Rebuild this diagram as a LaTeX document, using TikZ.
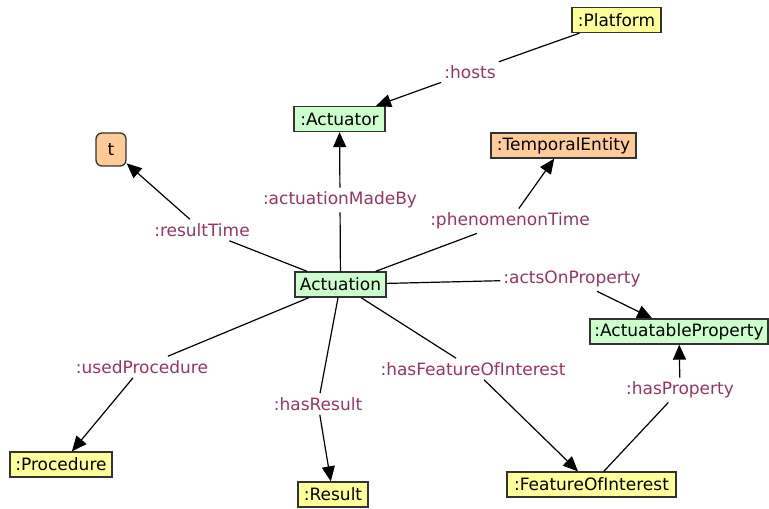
\documentclass[tikz,border=0pt]{standalone}
\usepackage{fontspec}
\setmainfont{DejaVu Sans}
\usetikzlibrary{arrows.meta}
\definecolor{lblc}{HTML}{993366}
\definecolor{gfill}{HTML}{CCFFCC}
\definecolor{yfill}{HTML}{FFFF99}
\definecolor{ofill}{HTML}{FFCC99}
\definecolor{bord}{HTML}{333333}
\begin{document}
\begin{tikzpicture}[x=1pt,y=-1pt,
  box/.style={draw=bord, line width=1.3pt, minimum height=25pt, inner xsep=2pt, inner ysep=0pt, font=\fontsize{17}{19}\selectfont},
  gbox/.style={box, fill=gfill},
  ybox/.style={box, fill=yfill},
  obox/.style={box, fill=ofill},
  lbl/.style={text=lblc, inner xsep=3pt, inner ysep=4pt, font=\fontsize{17}{19}\selectfont},
  conn/.style={line width=1.2pt, draw=black},
  arr/.style={conn, -{Triangle[length=15pt,width=13pt]}}]
\useasboundingbox (0,0) rectangle (769,509);
% nodes
\node[ybox, minimum width=89pt] (plat) at (616.5,20) {:Platform};
\node[gbox, minimum width=91pt] (actr) at (339.5,119) {:Actuator};
\node[obox, rounded corners=6pt, minimum width=30pt, minimum height=33pt] (t) at (111,149.5) {t};
\node[obox, minimum width=145pt] (temp) at (563.5,145.5) {:TemporalEntity};
\node[gbox, minimum width=91pt] (actn) at (340.5,284.5) {Actuation};
\node[gbox, minimum width=178pt] (aprop) at (679,331.5) {:ActuatableProperty};
\node[ybox, minimum width=102pt] (proc) at (61,464.5) {:Procedure};
\node[ybox, minimum width=70pt] (res) at (333,494.5) {:Result};
\node[ybox, minimum width=169pt] (foi) at (591.5,484.5) {:FeatureOfInterest};
% labels
\node[lbl] (lhosts) at (470,72) {:hosts};
\node[lbl] (lrt) at (202,230) {:resultTime};
\node[lbl] (lamb) at (340,200) {:actuationMadeBy};
\node[lbl] (lpt) at (510,221) {:phenomenonTime};
\node[lbl] (laop) at (572,279) {:actsOnProperty};
\node[lbl] (lup) at (142,367) {:usedProcedure};
\node[lbl] (lhr) at (318,404) {:hasResult};
\node[lbl] (lhfoi) at (473,369) {:hasFeatureOfInterest};
\node[lbl] (lhp) at (680,390) {:hasProperty};
% connectors
\draw[arr] (plat) -- (lhosts) -- (actr);
\draw[arr] (actn) -- (lrt) -- (t);
\draw[arr] (actn) -- (lamb) -- (actr);
\draw[arr] (actn) -- (lpt) -- (temp);
\draw[arr] (actn) -- (laop) -- (aprop);
\draw[arr] (actn) -- (lup) -- (proc);
\draw[arr] (actn) -- (lhr) -- (res);
\draw[arr] (actn) -- (lhfoi) -- (foi);
\draw[arr] (foi) -- (lhp) -- (aprop);
\end{tikzpicture}
\end{document}
